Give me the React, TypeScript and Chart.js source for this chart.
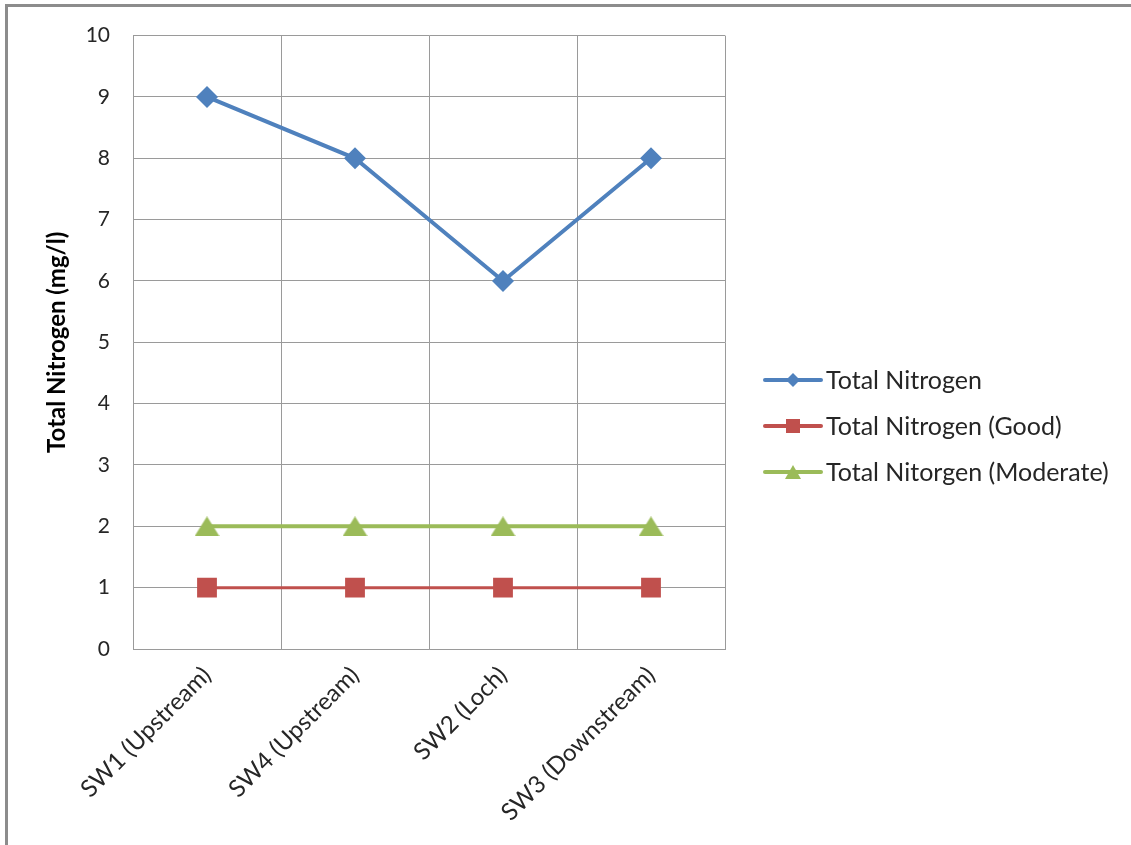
import React, { useEffect, useRef } from "react";
import { Chart, registerables } from "chart.js";

Chart.register(...registerables);

const categories = ["SW1 (Upstream)", "SW4 (Upstream)", "SW2 (Loch)", "SW3 (Downstream)"];
const totalNitrogen = [9, 8, 6, 8];
const totalNitrogenGood = [1, 1, 1, 1];
const totalNitrogenModerate = [2, 2, 2, 2];
const seriesNames = ["Total Nitrogen", "Total Nitrogen (Good)", "Total Nitorgen (Moderate)"];
const yAxisTitle = "Total Nitrogen (mg/l)";

const FONT = "Lato, 'Open Sans', sans-serif";
const BLUE = "#4F81BD";
const RED = "#C0504D";
const GREEN = "#9BBB59";

function makeTriangle(w: number, h: number, color: string) {
  const c = document.createElement("canvas");
  c.width = w;
  c.height = h;
  const g = c.getContext("2d")!;
  g.fillStyle = color;
  g.beginPath();
  g.moveTo(w / 2, 0);
  g.lineTo(w, h);
  g.lineTo(0, h);
  g.closePath();
  g.fill();
  return c;
}

const legendPlugin = {
  id: "customLegend",
  afterDraw(chart: any) {
    const ctx = chart.ctx;
    const items = [
      { label: seriesNames[0], color: BLUE, style: "rectRot", r: 7 },
      { label: seriesNames[1], color: RED, style: "rect", r: 10 },
      { label: seriesNames[2], color: GREEN, style: "triangle", r: 10 },
    ];
    const x0 = 765;
    const x1 = 821;
    const ys = [380, 426, 472];
    ctx.save();
    items.forEach((it, i) => {
      const y = ys[i];
      ctx.strokeStyle = it.color;
      ctx.lineWidth = 4;
      ctx.lineCap = "round";
      ctx.beginPath();
      ctx.moveTo(x0, y);
      ctx.lineTo(x1, y);
      ctx.stroke();
      ctx.fillStyle = it.color;
      const cx = (x0 + x1) / 2;
      ctx.beginPath();
      if (it.style === "rectRot") {
        ctx.moveTo(cx, y - it.r);
        ctx.lineTo(cx + it.r, y);
        ctx.lineTo(cx, y + it.r);
        ctx.lineTo(cx - it.r, y);
        ctx.closePath();
      } else if (it.style === "rect") {
        const s = it.r * 0.7;
        ctx.rect(cx - s, y - s, 2 * s, 2 * s);
      } else {
        ctx.moveTo(cx, y - 7);
        ctx.lineTo(cx + 8, y + 7);
        ctx.lineTo(cx - 8, y + 7);
        ctx.closePath();
      }
      ctx.fill();
      ctx.fillStyle = "#262626";
      ctx.font = `25px ${FONT}`;
      ctx.textAlign = "left";
      ctx.textBaseline = "middle";
      ctx.fillText(it.label, 826, y + 1);
    });
    ctx.restore();
  },
};

export default function App() {
  const ref = useRef<HTMLCanvasElement | null>(null);
  useEffect(() => {
    if (!ref.current) return;
    const tri = makeTriangle(25, 20, GREEN);
    const chart = new Chart(ref.current, {
      type: "line",
      data: {
        labels: categories,
        datasets: [
          {
            label: seriesNames[0],
            data: totalNitrogen,
            borderColor: BLUE,
            backgroundColor: BLUE,
            borderWidth: 4,
            pointStyle: "rectRot",
            pointRadius: 11,
            pointBorderWidth: 0,
            tension: 0,
          },
          {
            label: seriesNames[1],
            data: totalNitrogenGood,
            borderColor: RED,
            backgroundColor: RED,
            borderWidth: 3,
            pointStyle: "rect",
            pointRadius: 14,
            pointBorderWidth: 0,
          },
          {
            label: seriesNames[2],
            data: totalNitrogenModerate,
            borderColor: GREEN,
            backgroundColor: GREEN,
            borderWidth: 4,
            pointStyle: tri as any,
            pointRadius: 13,
            pointBorderWidth: 0,
          },
        ],
      },
      options: {
        responsive: false,
        animation: false,
        layout: { padding: { left: 0, top: 34, right: 406, bottom: 0 } },
        plugins: {
          legend: { display: false },
          tooltip: { enabled: false },
        },
        scales: {
          x: {
            offset: true,
            grid: { color: "#9a9a9a", lineWidth: 1, drawTicks: false, offset: true },
            border: { color: "#9a9a9a", width: 1 },
            ticks: {
              color: "#262626",
              font: { family: FONT, size: 24 },
              minRotation: 45,
              maxRotation: 45,
              padding: 12,
              autoSkip: false,
            },
            afterFit: (s: any) => {
              s.height = 196;
            },
          },
          y: {
            min: 0,
            max: 10,
            grid: { color: "#9a9a9a", lineWidth: 1, drawTicks: false },
            border: { color: "#9a9a9a", width: 1 },
            ticks: {
              stepSize: 1,
              color: "#262626",
              font: { family: FONT, size: 21 },
              padding: 23,
            },
            title: {
              display: true,
              text: yAxisTitle,
              color: "#000",
              font: { family: FONT, size: 24, weight: "bold" },
              padding: { top: 43, bottom: 0 },
            },
            afterFit: (s: any) => {
              s.width = 133;
            },
          },
        },
      },
      plugins: [legendPlugin],
    });
    return () => chart.destroy();
  }, []);

  return (
    <div
      style={{
        position: "fixed",
        left: 0,
        top: 0,
        width: 1131,
        height: 845,
        overflow: "hidden",
        background: "#fff",
      }}
    >
      <div
        style={{
          position: "absolute",
          left: 5,
          top: 4,
          width: 1300,
          height: 1000,
          borderTop: "3px solid #8c8c8c",
          borderLeft: "3px solid #8c8c8c",
        }}
      />
      <canvas
        ref={ref}
        width={1131}
        height={845}
        style={{ position: "absolute", left: 0, top: 0 }}
      />
    </div>
  );
}
